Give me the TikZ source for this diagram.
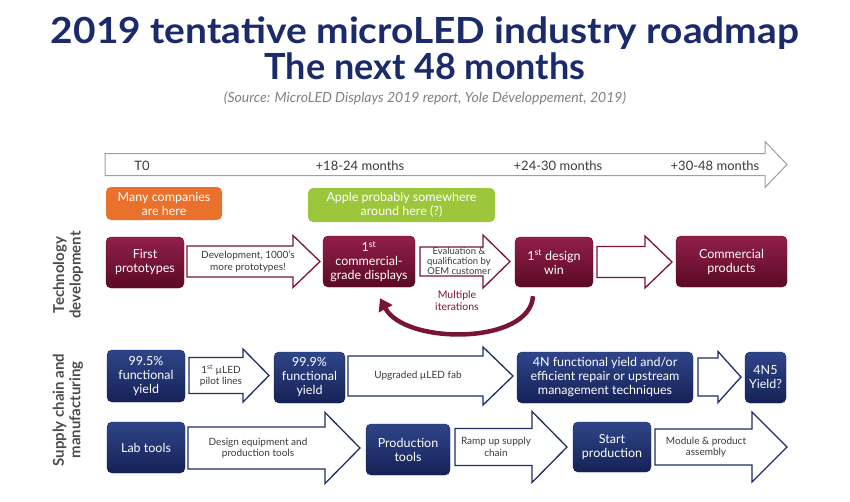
\documentclass[tikz,border=0pt]{standalone}
\usepackage{fontspec}
\setmainfont{Lato}
\usetikzlibrary{arrows.meta}
\definecolor{navytitle}{HTML}{1B2A6B}
\definecolor{wine}{HTML}{7A1436}
\definecolor{winetop}{HTML}{921F4A}
\definecolor{winebot}{HTML}{5A0A25}
\definecolor{navytop}{HTML}{2F4589}
\definecolor{navybot}{HTML}{152256}
\definecolor{navyline}{HTML}{1E2E66}
\definecolor{orangebox}{HTML}{E9712B}
\definecolor{greenbox}{HTML}{9CC63B}
\definecolor{txtgray}{HTML}{3A3A3A}
% block arrow: style, start x, head base x, tip x, mid y, half shaft, half head
\newcommand{\blockarrow}[7]{\draw[#1] (#2,#5-#6)--(#3,#5-#6)--(#3,#5-#7)--(#4,#5)--(#3,#5+#7)--(#3,#5+#6)--(#2,#5+#6)--cycle;}
\begin{document}
\begin{tikzpicture}[x=1pt,y=-1pt,
  box/.style={rounded corners=5pt,text=white,align=center,font=\fontsize{12.5}{14}\selectfont,inner sep=1pt},
  techbox/.style={box,top color=winetop,bottom color=winebot,draw=winebot},
  supbox/.style={box,top color=navytop,bottom color=navybot,draw=navybot},
  techarr/.style={draw=wine,line width=1.3pt,fill=white},
  suparr/.style={draw=navyline,line width=1.3pt,fill=white},
  arrtxt/.style={align=center,text=txtgray,font=\fontsize{10}{11.5}\selectfont},
  tltxt/.style={text=txtgray,font=\fontsize{13}{15}\selectfont},
  titletxt/.style={font=\bfseries\fontsize{36}{38}\selectfont,text=navytitle},
  sidelabel/.style={rotate=90,align=center,font=\bfseries\fontsize{15}{16.5}\selectfont,text=black!70}]
\useasboundingbox (0,0) rectangle (850,501);
% title
\node[titletxt,xscale=1.08] (title) at (425,33) {2019 tentative microLED industry roadmap};
\node[titletxt] (subtitle) at (425,66) {The next 48 months};
\node[font=\itshape\fontsize{14}{16}\selectfont,text=gray] (source) at (425,98) {(Source: MicroLED Displays 2019 report, Yole Développement, 2019)};
% time line
\blockarrow{draw=gray!75,line width=1pt,fill=white}{105}{765}{787}{164.5}{11}{23}
\node[tltxt] (t0) at (142,166) {T0};
\node[tltxt] (t18) at (360,166) {+18-24 months};
\node[tltxt] (t24) at (558,166) {+24-30 months};
\node[tltxt] (t30) at (715,166) {+30-48 months};
\node[box,fill=orangebox,minimum width=116pt,minimum height=33pt] (many) at (164,203.5) {Many companies\\are here};
\node[box,fill=greenbox,minimum width=187pt,minimum height=34pt] (apple) at (401.5,205) {Apple probably somewhere\\around here (?)};
% side labels
\node[sidelabel] (techlbl) at (68,275) {Technology\\development};
\node[sidelabel] (suplbl) at (68,410) {Supply chain and\\manufacturing};
% technology development
\node[techbox,minimum width=78pt,minimum height=51pt] (fp) at (145,262.5) {First\\prototypes};
\blockarrow{techarr}{187}{293}{320}{261.5}{15.5}{26}
\node[arrtxt] (devtxt) at (248,261.5) {Development, 1000's\\more prototypes!};
\node[techbox,minimum width=92pt,minimum height=51pt] (cg) at (369,261.5) {1\textsuperscript{st}\\commercial-\\grade displays};
\blockarrow{techarr}{420}{483}{510}{261.5}{14.5}{26.5}
\node[arrtxt,font=\fontsize{9.5}{10}\selectfont,inner sep=0pt] (evaltxt) at (459,261.5) {Evaluation \&\\qualification by\\OEM customer};
\node[techbox,minimum width=78pt,minimum height=50pt] (dw) at (554,262) {1\textsuperscript{st} design\\win};
\blockarrow{techarr}{597}{645}{672}{262}{15.5}{26}
\node[techbox,minimum width=111pt,minimum height=51pt] (cp) at (731.5,261.5) {Commercial\\products};
\node[text=wine,align=center,font=\fontsize{10.5}{12}\selectfont] (iter) at (457,301) {Multiple\\iterations};
\draw[wine,line width=4.5pt,-{Triangle[length=12pt,width=15pt]}] ([xshift=-21pt,yshift=-9pt]dw.south) .. controls (530,345) and (405,345) .. ([xshift=11pt,yshift=-11pt]cg.south);
% supply chain, yield
\node[supbox,minimum width=78pt,minimum height=52pt] (y1) at (146,376) {99.5\%\\functional\\yield};
\blockarrow{suparr}{189}{243}{269}{375.5}{18}{26.5}
\node[arrtxt] (pilot) at (221,375.5) {1\textsuperscript{st} µLED\\pilot lines};
\node[supbox,minimum width=71pt,minimum height=51pt] (y2) at (309.5,377.5) {99.9\%\\functional\\yield};
\blockarrow{suparr}{348}{483}{513}{376}{20}{29}
\node[arrtxt] (fab) at (418,376) {Upgraded µLED fab};
\node[supbox,minimum width=176pt,minimum height=51pt] (y3) at (605,377.5) {4N functional yield and/or\\efficient repair or upstream\\management techniques};
\blockarrow{suparr}{698}{718}{741}{377}{19}{25.5}
\node[supbox,minimum width=41pt,minimum height=51pt] (y4) at (765.5,377.5) {4N5\\Yield?};
% supply chain, tools
\node[supbox,minimum width=78pt,minimum height=51pt] (lt) at (146,447.5) {Lab tools};
\blockarrow{suparr}{188}{325}{360}{448}{21}{35.5}
\node[arrtxt] (design) at (258,448) {Design equipment and\\production tools};
\node[supbox,minimum width=84pt,minimum height=51pt] (pt) at (408,449.5) {Production\\tools};
\blockarrow{suparr}{455}{532}{567}{447}{18.5}{35.5}
\node[arrtxt] (ramp) at (496,447) {Ramp up supply\\chain};
\node[supbox,minimum width=78pt,minimum height=50pt] (sp) at (612,447) {Start\\production};
\blockarrow{suparr}{655}{752}{787}{447}{18}{35}
\node[arrtxt] (module) at (706,447) {Module \& product\\assembly};
\end{tikzpicture}
\end{document}
